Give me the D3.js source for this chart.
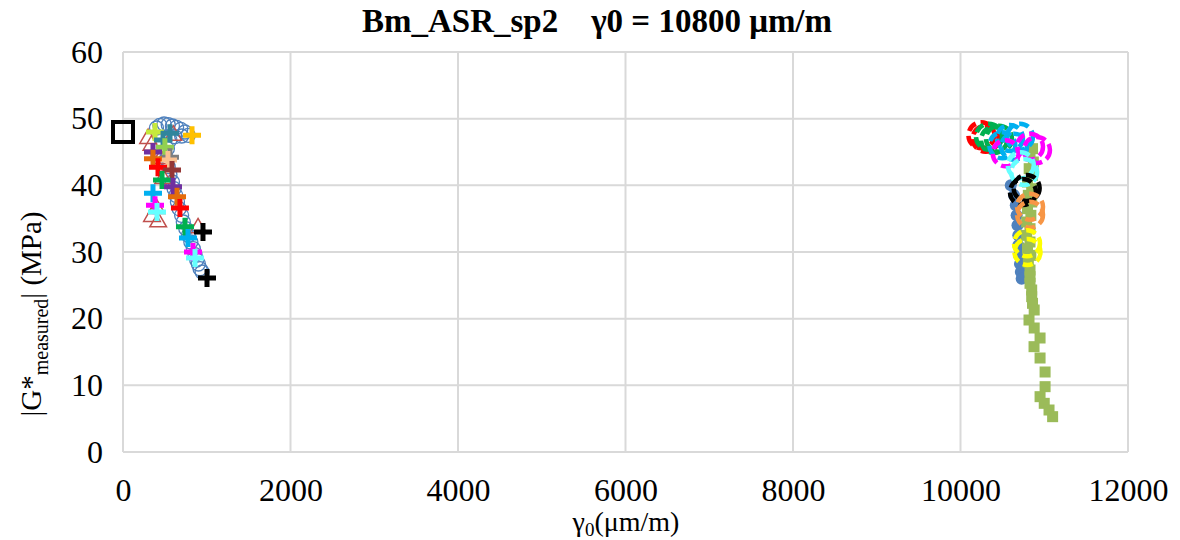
<!DOCTYPE html>
<html><head><meta charset="utf-8">
<script src="https://cdn.jsdelivr.net/npm/d3@7"></script>
<style>body{margin:0;background:#fff}svg{display:block}text{font-family:"Liberation Serif","Times New Roman",serif}</style>
</head><body>
<svg id="c" width="1180" height="540"></svg>
<script>
const xTicks = [0,2000,4000,6000,8000,10000,12000];
const yTicks = [0,10,20,30,40,50,60];

// Left cluster: blue open circles
const blueCircles = [[400,48.6],[440,49.0],[490,49.2],[540,49.1],[590,48.9],[640,48.7],[690,48.4],[740,48.0],[780,47.5],[700,47.4],[620,47.3],[560,46.8],[530,45.5],[520,44],[540,42.8],[560,41.6],[590,40.5],[610,39.5],[630,38.5],[650,37.5],[670,36.5],[700,35.5],[720,34.5],[750,33.5],[780,32.5],[810,31.5],[840,30.5],[860,29.6],[880,28.8],[900,28.2],[920,27.5],[945,27]];
// Left cluster: red open triangles
const redTriangles = [[300,47],[340,46],[420,34.5],[346,35.3],[400,36.5],[896,33.6],[450,44],[480,41],[600,47.5]];
// Left cluster: plus markers [x, y, colour]
const plusPoints = [
 [382,48.0,"#c6e83c"],[561,47.8,"#31859c"],[478,46.8,"#31859c"],[824,47.5,"#ffc000"],
 [500,45.7,"#92d050"],[358,45.0,"#7030a0"],[561,44.2,"#7f7f7f"],[537,43.8,"#fac090"],
 [358,44.0,"#e46c0a"],[418,42.7,"#ff0000"],[585,42.3,"#953735"],[466,40.8,"#00b050"],
 [597,39.8,"#7030a0"],[358,38.8,"#00b0f0"],[645,38.3,"#e46c0a"],[382,37.0,"#ff00ff"],
 [680,36.6,"#ff0000"],[406,36.0,"#66ffff"],[740,33.8,"#00b050"],[955,33.0,"#000000"],
 [776,32.1,"#00b0f0"],[836,30.0,"#ff00ff"],[860,29.1,"#66ffff"],[1003,26.1,"#000000"]
];
const blackSquare = [[0,48.0]];

// Right cluster
const blueFilled = [[10600,40],[10640,38.5],[10660,37],[10670,35.5],[10680,34],[10690,32.5],[10690,31],[10700,29.5],[10710,28.2],[10720,27],[10730,26]];
const greenSquares = [[10860,45.5],[10830,44.5],[10870,43.5],[10820,42.5],[10860,41.5],[10800,40.5],[10850,39.5],[10810,38.5],[10850,37.5],[10800,36.5],[10840,35.5],[10790,34.5],[10830,33.5],[10790,32.5],[10830,31.5],[10800,30.5],[10840,29.5],[10810,28.5],[10830,27.3],[10830,26.3],[10830,25.3],[10850,24.3],[10850,23.3],[10860,22.3],[10880,21.3],[10818,19.8],[10880,18.6],[10950,17.1],[10878,15.8],[10950,14.1],[11010,12.0],[11010,9.8],[10950,8.3],[11000,7.3],[11057,6.3],[11100,5.3]];
// Dashed open circles [x, y, colour]
const dashedCircles = [
 [10250,47.5,"#ff0000"],[10300,47.0,"#ff0000"],
 [10340,47.3,"#00b050"],[10400,46.8,"#00b050"],[10460,47.0,"#00b050"],
 [10500,46.0,"#00b0f0"],[10590,47.1,"#00b0f0"],[10710,47.3,"#00b0f0"],[10640,45.8,"#00b0f0"],
 [10540,44.8,"#ff00ff"],[10913,45.3,"#ff00ff"],[10830,45.8,"#ff00ff"],
 [10760,42.0,"#66ffff"],[10720,43.0,"#66ffff"],
 [10746,39.0,"#000000"],[10790,39.6,"#000000"],
 [10830,36.8,"#f79646"],[10830,35.6,"#f79646"],
 [10794,31.3,"#ffff00"],[10800,30.0,"#ffff00"]
];

const svg = d3.select("#c");
const x = d3.scaleLinear().domain([0,12000]).range([123,1128]);
const y = d3.scaleLinear().domain([0,60]).range([452,52]);

// grid
const g = svg.append("g");
g.selectAll(".vg").data(xTicks).join("line").attr("x1",d=>x(d)).attr("x2",d=>x(d)).attr("y1",y(60)).attr("y2",y(0)).attr("stroke","#d9d9d9").attr("stroke-width",2);
g.selectAll(".hg").data(yTicks).join("line").attr("x1",x(0)).attr("x2",x(12000)).attr("y1",d=>y(d)).attr("y2",d=>y(d)).attr("stroke","#d9d9d9").attr("stroke-width",2);

// axes (labels only)
const xa = svg.append("g").attr("transform",`translate(0,${y(0)})`).call(d3.axisBottom(x).tickValues(xTicks).tickSize(0).tickPadding(26).tickFormat(d3.format("d")));
xa.select(".domain").remove();
xa.selectAll("text").attr("font-size",32).attr("fill","#000").attr("font-family","Liberation Serif");
const ya = svg.append("g").attr("transform",`translate(${x(0)},0)`).call(d3.axisLeft(y).tickValues(yTicks).tickSize(0).tickPadding(20));
ya.select(".domain").remove();
ya.selectAll("text").attr("font-size",32).attr("fill","#000").attr("font-family","Liberation Serif");

// marks - left
svg.append("g").selectAll("circle").data(blueCircles).join("circle")
 .attr("cx",d=>x(d[0])).attr("cy",d=>y(d[1])).attr("r",7).attr("fill","none").attr("stroke","#4f81bd").attr("stroke-width",1.3);
const tri = d3.symbol().type(d3.symbolTriangle).size(120);
svg.append("g").selectAll("path").data(redTriangles).join("path")
 .attr("d",tri).attr("transform",d=>`translate(${x(d[0])},${y(d[1])})`).attr("fill","none").attr("stroke","#c0504d").attr("stroke-width",1.5);
svg.append("g").selectAll("path").data(plusPoints).join("path")
 .attr("d","M-9,0H9M0,-9V9").attr("transform",d=>`translate(${x(d[0])},${y(d[1])})`).attr("stroke",d=>d[2]).attr("stroke-width",5).attr("fill","none");
svg.append("g").selectAll("rect").data(blackSquare).join("rect")
 .attr("x",d=>x(d[0])-10).attr("y",d=>y(d[1])-10).attr("width",20).attr("height",20).attr("fill","none").attr("stroke","#000").attr("stroke-width",4);

// marks - right
svg.append("g").selectAll("circle").data(blueFilled).join("circle")
 .attr("cx",d=>x(d[0])).attr("cy",d=>y(d[1])).attr("r",6).attr("fill","#4f81bd");
svg.append("g").selectAll("rect").data(greenSquares).join("rect")
 .attr("x",d=>x(d[0])-5.5).attr("y",d=>y(d[1])-5.5).attr("width",11).attr("height",11).attr("fill","#9bbb59");
svg.append("g").selectAll("circle").data(dashedCircles).join("circle")
 .attr("cx",d=>x(d[0])).attr("cy",d=>y(d[1])).attr("r",13).attr("fill","none").attr("stroke",d=>d[2]).attr("stroke-width",4.5).attr("stroke-dasharray","10,5");

// title
svg.append("text").attr("x",597).attr("y",32).attr("text-anchor","middle").attr("font-size",33).attr("font-weight","bold")
 .attr("xml:space","preserve").text("Bm_ASR_sp2    γ0 = 10800 μm/m");

// x label
const xl = svg.append("text").attr("x",626).attr("y",531).attr("text-anchor","middle").attr("font-size",28);
xl.append("tspan").text("γ");
xl.append("tspan").attr("font-size",19).attr("dy",5).text("0");
xl.append("tspan").attr("dy",-5).text("(μm/m)");

// y label
const yl = svg.append("text").attr("transform","translate(41,314) rotate(-90)").attr("text-anchor","middle").attr("font-size",29);
yl.append("tspan").text("|G*");
yl.append("tspan").attr("font-size",20).attr("dy",7).text("measured");
yl.append("tspan").attr("dy",-7).text("|  (MPa)");
</script>
</body></html>
